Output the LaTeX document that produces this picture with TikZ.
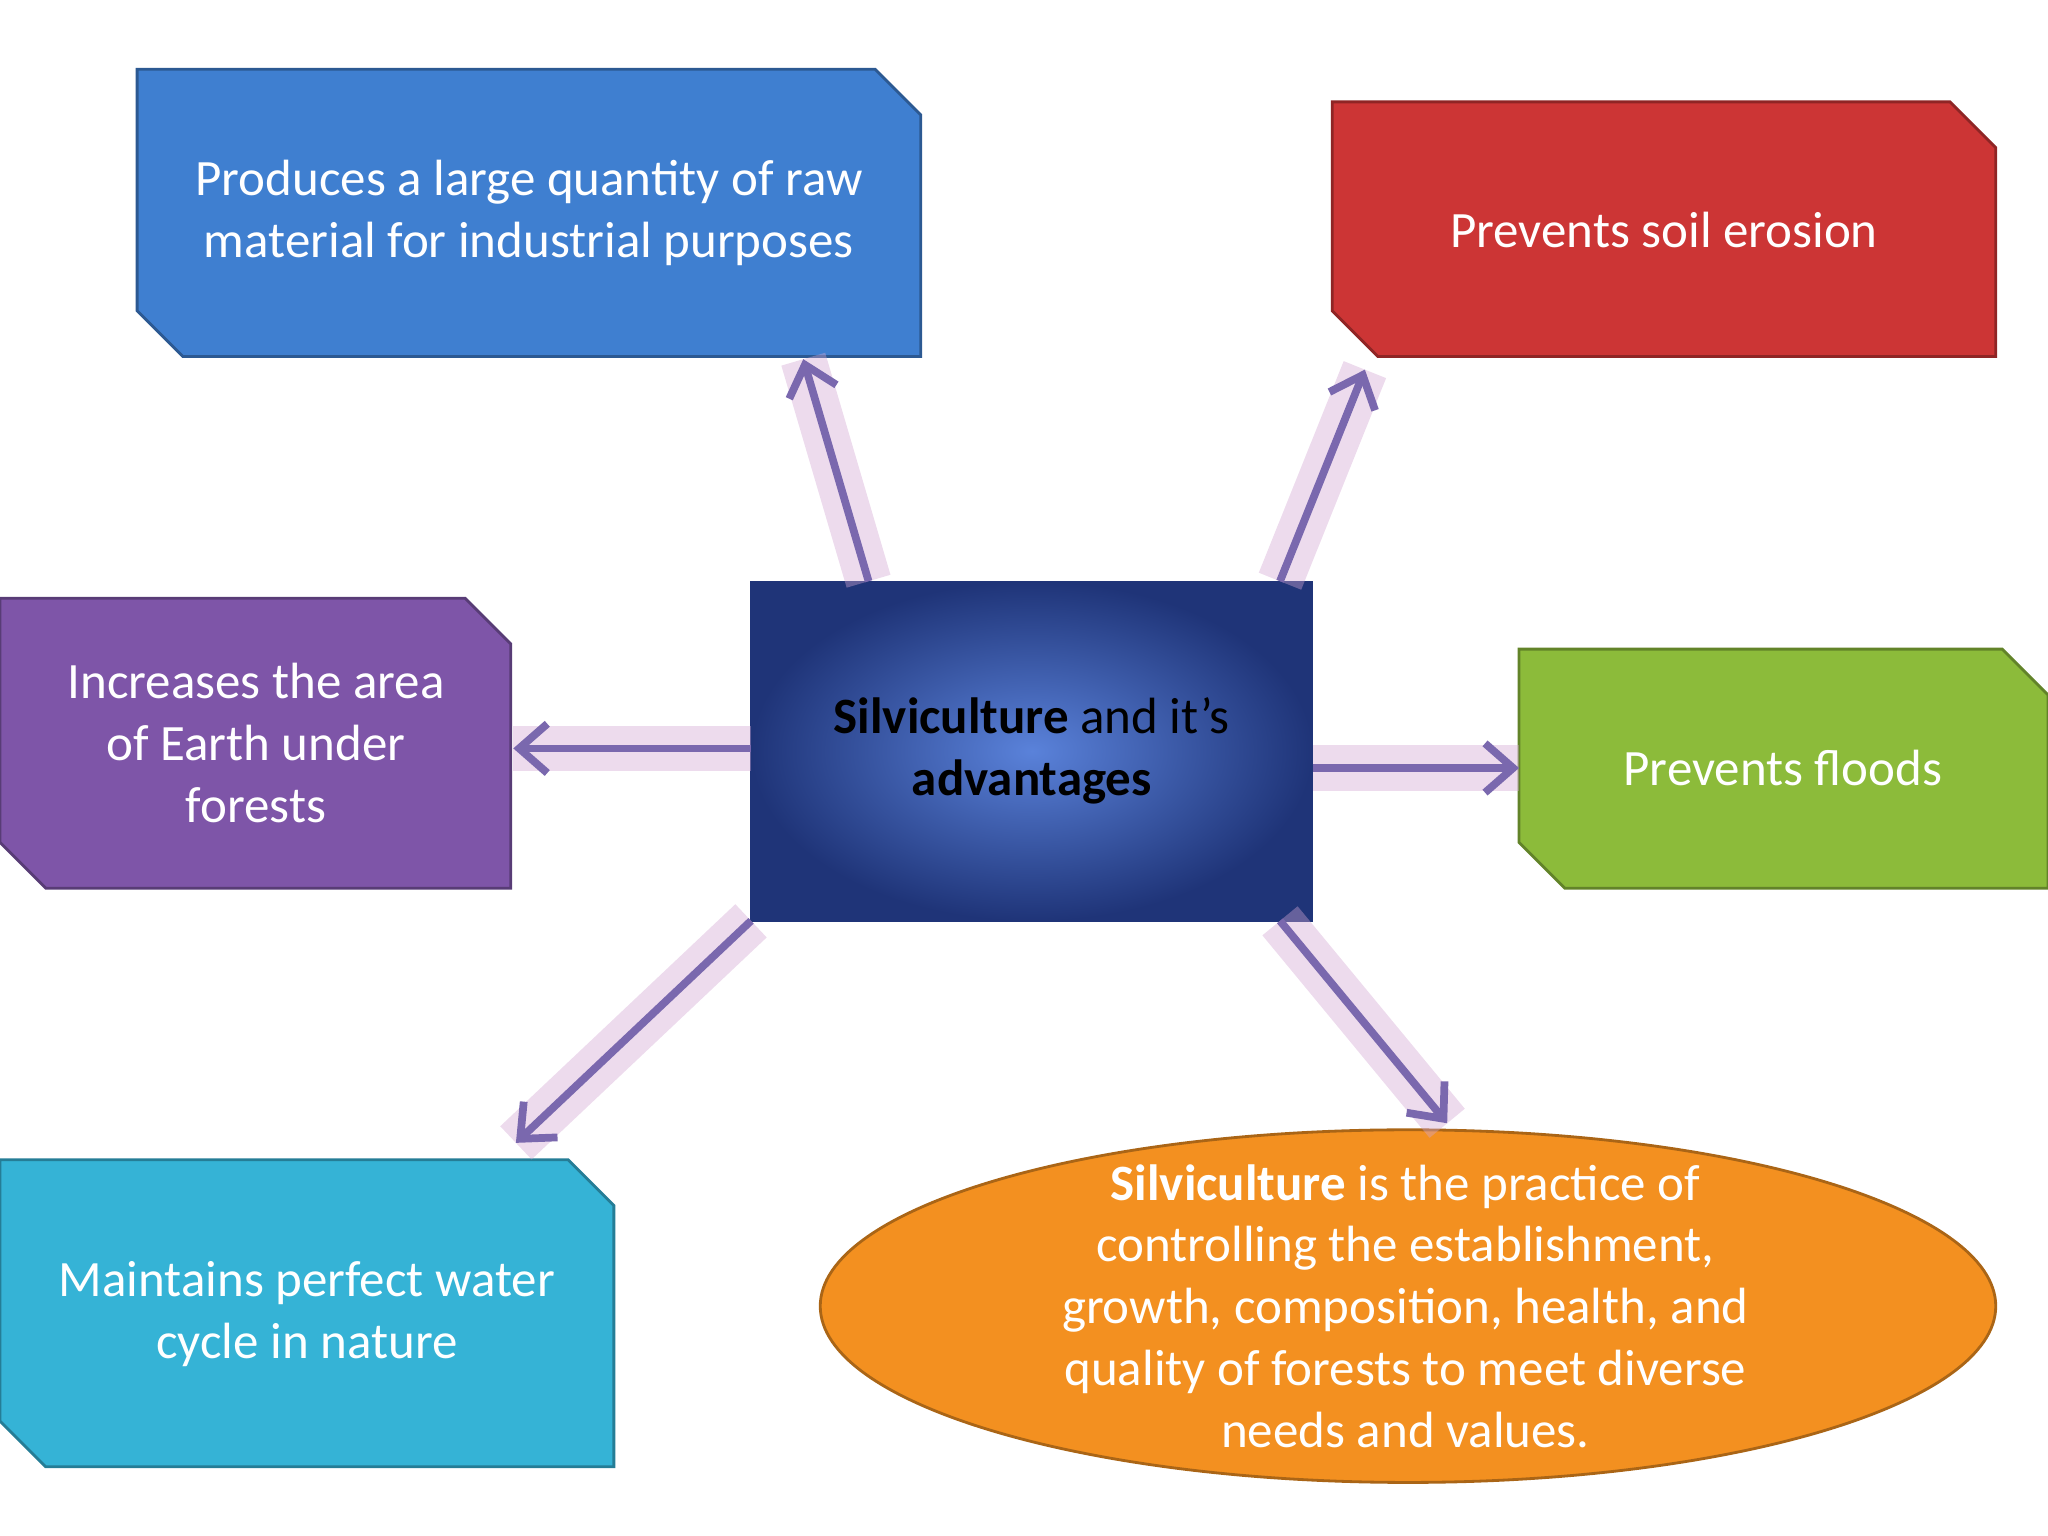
\documentclass[tikz,border=0pt]{standalone}
\usepackage{fontspec}
\setmainfont{Carlito}
\usetikzlibrary{arrows.meta}
\begin{document}
\begin{tikzpicture}[x=0.01306cm,y=-0.01306cm,
  txt/.style={text=white,align=center,font=\fontsize{14.5}{17.6}\selectfont},
  glow/.style={line width=13pt,draw=violet!35,opacity=0.4},
  arr/.style={line width=2.2pt,draw=arrowc,-{Straight Barb[length=8pt,width=14pt,line width=2.2pt]}},
  boxedge/.style={draw=#1!70!black,line width=0.8pt}]
\definecolor{arrowc}{HTML}{7A68AE}
\definecolor{cblue}{HTML}{3F7FD0}
\definecolor{cred}{HTML}{CC3535}
\definecolor{cpurp}{HTML}{7E55A8}
\definecolor{cgreen}{HTML}{8CBB3A}
\definecolor{ccyan}{HTML}{35B3D6}
\definecolor{corange}{HTML}{F39020}
\definecolor{cin}{HTML}{5A82DA}
\definecolor{cout}{HTML}{1F3478}
\useasboundingbox (0,0) rectangle (1568,1176);
% center box
\shade[inner color=cin,outer color=cout,draw=cout] (575,445) rectangle (1005,705);
\node[txt,text=black] (c) at (790,575) {\textbf{Silviculture} and it’s\\\textbf{advantages}};
\coordinate (cA) at (665,445); \coordinate (cB) at (980,445);
\coordinate (cL) at (575,573); \coordinate (cR) at (1005,588);
\coordinate (cD1) at (575,705); \coordinate (cD2) at (980,705);
% boxes
\newcommand\snipbox[6]{% x1 y1 x2 y2 color name
  \fill[#5,boxedge=#5] (#1,#2) -- (#3-35,#2) -- (#3,#2+35) -- (#3,#4) -- (#1+35,#4) -- (#1,#4-35) -- cycle;}
\snipbox{105}{53}{705}{273}{cblue}{}
\node[txt] (b1) at (405,163) {Produces a large quantity of raw\\material for industrial purposes};
\coordinate (b1a) at (615,275);
\snipbox{1020}{78}{1528}{273}{cred}{}
\node[txt] (b2) at (1274,176) {Prevents soil erosion};
\coordinate (b2a) at (1045,283);
\snipbox{0}{458}{391}{680}{cpurp}{}
\node[txt] (b3) at (196,569) {Increases the area\\of Earth under\\forests};
\coordinate (b3a) at (393,573);
\snipbox{1163}{497}{1568}{680}{cgreen}{}
\node[txt] (b4) at (1365,588) {Prevents floods};
\coordinate (b4a) at (1163,588);
\snipbox{0}{888}{470}{1123}{ccyan}{}
\node[txt] (b5) at (235,1006) {Maintains perfect water\\cycle in nature};
\coordinate (b5a) at (395,875);
\fill[corange,draw=corange!70!black,line width=0.8pt] (1078,1000) ellipse [x radius=450,y radius=135];
\node[txt] (e) at (1076,1000) {\textbf{Silviculture} is the practice of\\controlling the establishment,\\growth, composition, health, and\\quality of forests to meet diverse\\needs and values.};
\coordinate (ea) at (1108,860);
% arrows
\foreach \a/\b in {cA/b1a,cB/b2a,cL/b3a,cR/b4a,cD1/b5a,cD2/ea}{
  \draw[glow] (\a) -- (\b);
  \draw[arr] (\a) -- (\b);}
\end{tikzpicture}
\end{document}
